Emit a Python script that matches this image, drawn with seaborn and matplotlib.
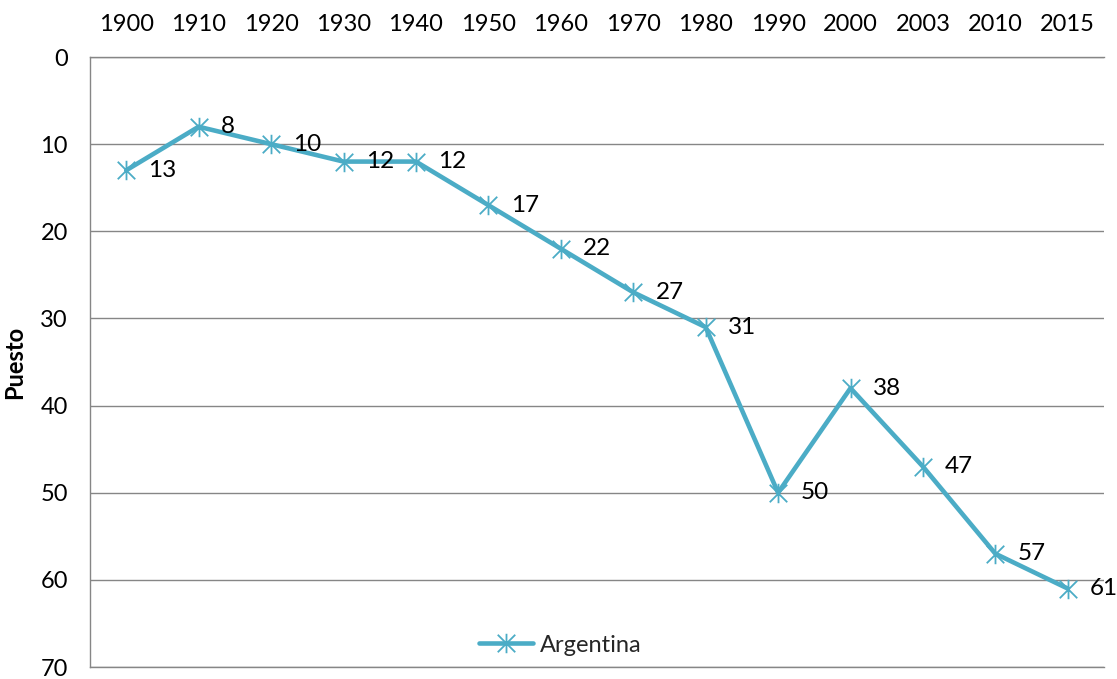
import matplotlib
matplotlib.use("Agg")
import matplotlib.pyplot as plt
import seaborn as sns
import pandas as pd
from matplotlib.path import Path

years = ["1900", "1910", "1920", "1930", "1940", "1950", "1960", "1970",
         "1980", "1990", "2000", "2003", "2010", "2015"]
puesto = [13, 8, 10, 12, 12, 17, 22, 27, 31, 50, 38, 47, 57, 61]
series_name = "Argentina"
y_ticks = [0, 10, 20, 30, 40, 50, 60, 70]

sns.set_theme(style="white")
plt.rcParams['font.family'] = ['Lato', 'DejaVu Sans']

color = "#4BACC6"
grid_color = "#868686"

star = Path([(0, -1), (0, 1), (-0.9, -0.9), (0.9, 0.9), (-0.9, 0.9), (0.9, -0.9)],
            [Path.MOVETO, Path.LINETO, Path.MOVETO, Path.LINETO, Path.MOVETO, Path.LINETO])

df = pd.DataFrame({"year": years, "puesto": puesto})

fig = plt.figure(figsize=(11.17, 6.79), dpi=100)
ax = fig.add_axes([90/1117, 12/679, 1014/1117, 610/679])

sns.lineplot(data=df, x="year", y="puesto", sort=False, ax=ax, color=color,
             linewidth=3.3, marker=star, markersize=14, markeredgewidth=1.3,
             markeredgecolor=color, markerfacecolor="none", label=series_name)

for i, v in enumerate(puesto):
    ax.annotate(str(v), xy=(i, v), xytext=(16, 0), textcoords="offset points",
                ha="left", va="center", fontsize=17.5, color="black")

ax.set_xlim(-0.5, len(years) - 0.5)
ax.set_ylim(70, 0)
ax.set_yticks(y_ticks)
ax.xaxis.tick_top()
ax.set_xticks(range(len(years)))
ax.set_xticklabels(years)
ax.tick_params(axis="both", length=0, labelsize=17, colors="black")
ax.tick_params(axis="x", pad=16)
ax.tick_params(axis="y", pad=16)
ax.set_xlabel("")
ax.set_ylabel("Puesto", fontsize=17, fontweight="bold", color="black", labelpad=10)

ax.yaxis.grid(True, color=grid_color, linewidth=1)
ax.xaxis.grid(False)
for s in ["top", "bottom", "left"]:
    ax.spines[s].set_visible(True)
    ax.spines[s].set_color(grid_color)
    ax.spines[s].set_linewidth(1)
ax.spines["right"].set_visible(False)

ax.legend(loc="center", bbox_to_anchor=(0.464, 0.036), frameon=False,
          fontsize=17, handlelength=2.3, handletextpad=0.3)

fig.savefig("out.png", dpi=100)
